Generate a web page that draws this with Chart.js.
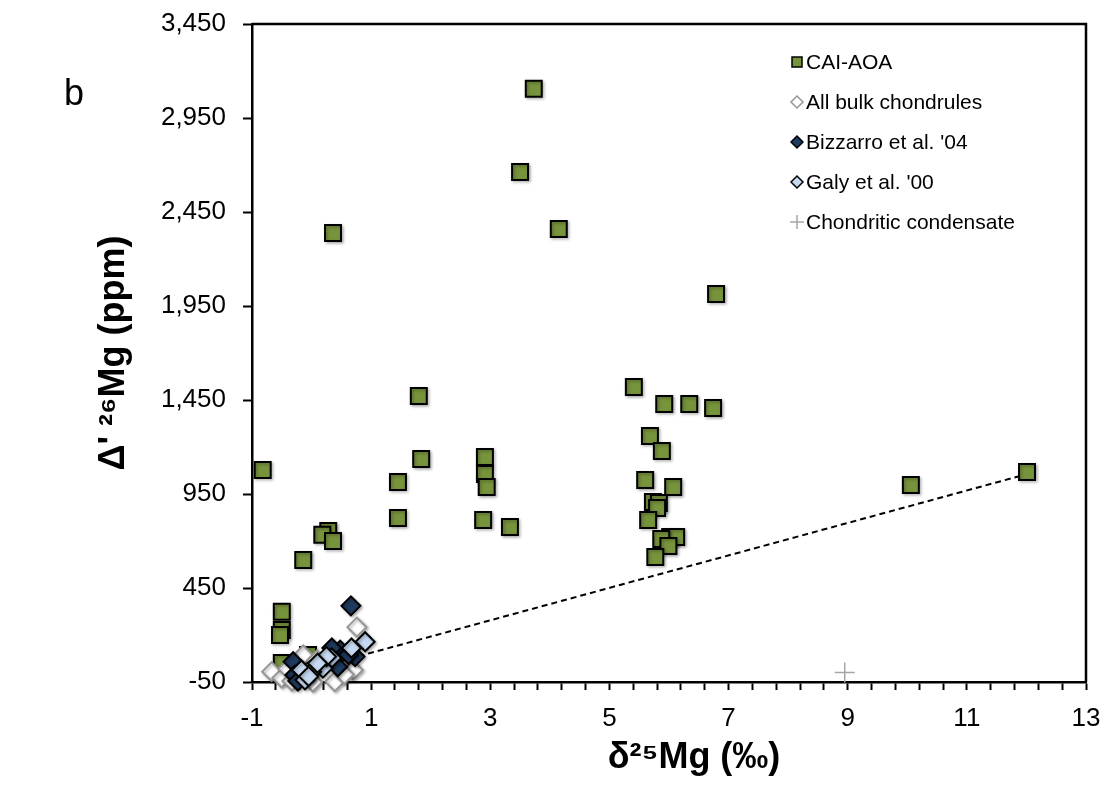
<!DOCTYPE html>
<html>
<head>
<meta charset="utf-8">
<title>Mg isotopes</title>
<script src="https://cdn.jsdelivr.net/npm/chart.js@4.4.0/dist/chart.umd.min.js"></script>
<style>
  html, body { margin: 0; padding: 0; background: #fff; }
  #wrap { width: 1106px; height: 785px; }
</style>
</head>
<body>
<div id="wrap"><canvas id="magChart" width="1106" height="785"></canvas></div>
<script>
// values: delta25Mg (permil) vs Delta'26Mg (ppm)
var caiX = [3.73, 3.50, 4.15, 0.36, 6.79, 5.41, 1.80, 5.92, 6.34, 6.74, 5.68, 5.88, -0.82, 1.84, 2.91, 2.91, 2.94, 1.45,
            5.60, 6.07, 1.45, 2.88, 3.33, 0.28, 0.18, 0.36, -0.14, 5.73, 5.83, 5.80, 5.65, 6.02, 6.12, 5.87, 5.99, 5.77,
            10.06, 12.01, -0.50, -0.50, -0.53, -0.50, -0.06];
var caiY = [3105, 2663, 2360, 2338, 2014, 1519, 1471, 1429, 1429, 1407, 1259, 1179, 1078, 1136, 1147, 1056, 987, 1014,
            1024, 987, 822, 812, 774, 753, 733, 700, 599, 907, 902, 876, 812, 721, 721, 711, 673, 615,
            998, 1067, 324, 227, 200, 51, 94];

var bulkX = [0.76, 0.70, 0.39, -0.14, -0.67, -0.50, 0.02, -0.33, 0.55, 0.09, -0.40];
var bulkY = [242, 14, -48, 94, 5, -29, -50, -45, -10, 67, 20];

var bizX = [0.66, 0.73, 0.48, 0.44, -0.31, -0.28, -0.23, 0.34, 0.62];
var bizY = [355, 85, 120, 31, 58, -13, -45, 131, 95];

var galyX = [0.90, 0.67, 0.34, 0.19, 0.00, -0.17, -0.11, 0.25, -0.05, 0.10];
var galyY = [164, 131, 78, 24, 5, 14, -39, 85, -20, 50];

var condX = [8.95];
var condY = [0];

var trendX = [0.30, 12.00];
var trendY = [45, 1055];

var yTickValues = [-50, 450, 950, 1450, 1950, 2450, 2950, 3450];
var xLabelValues = [-1, 1, 3, 5, 7, 9, 11, 13];

function pts(xs, ys) {
    return xs.map(function (x, i) { return { x: x, y: ys[i] }; });
}

Chart.defaults.font.family = '"Liberation Sans", Arial, sans-serif';
Chart.defaults.color = '#000';

// soft marker shadow like the spreadsheet original
var shadowPlugin = {
    id: 'markerShadow',
    beforeDatasetDraw: function (chart, args) {
        if (chart.data.datasets[args.index].shadow) {
            var c = chart.ctx;
            c.save();
            c.shadowColor = 'rgba(0,0,0,0.3)';
            c.shadowBlur = 3;
            c.shadowOffsetX = 1.5;
            c.shadowOffsetY = 1.5;
        }
    },
    afterDatasetDraw: function (chart, args) {
        if (chart.data.datasets[args.index].shadow) chart.ctx.restore();
    }
};

// top and right edges of the plot box
var framePlugin = {
    id: 'frame',
    beforeDatasetsDraw: function (chart) {
        var a = chart.chartArea, c = chart.ctx;
        c.save();
        c.strokeStyle = '#000';
        c.lineWidth = 2.5;
        c.beginPath();
        c.moveTo(a.left, a.top);
        c.lineTo(a.right, a.top);
        c.lineTo(a.right, a.bottom);
        c.stroke();
        c.restore();
    }
};

// panel letter + legend inside the plot
var legendPlugin = {
    id: 'insideLegend',
    afterDraw: function (chart) {
        var c = chart.ctx;
        c.save();
        c.fillStyle = '#000';
        c.font = '36px "Liberation Sans", Arial, sans-serif';
        c.textBaseline = 'alphabetic';
        c.fillText('b', 64, 105);

        c.font = '21px "Liberation Sans", Arial, sans-serif';
        c.textBaseline = 'middle';
        var mx = 797, y = 62;
        chart.data.datasets.forEach(function (d) {
            if (!d.inLegend) return;
            c.lineWidth = 1.5;
            c.strokeStyle = d.borderColor;
            c.fillStyle = d.backgroundColor;
            c.beginPath();
            if (d.pointStyle === 'rect') {
                c.rect(mx - 5, y - 5, 10, 10);
                c.fill();
                c.stroke();
            } else if (d.pointStyle === 'rectRot') {
                c.moveTo(mx - 6, y);
                c.lineTo(mx, y - 6);
                c.lineTo(mx + 6, y);
                c.lineTo(mx, y + 6);
                c.closePath();
                c.fill();
                c.stroke();
            } else {
                c.moveTo(mx - 7, y);
                c.lineTo(mx + 7, y);
                c.moveTo(mx, y - 7);
                c.lineTo(mx, y + 7);
                c.stroke();
            }
            c.fillStyle = '#000';
            c.fillText(d.label, 806, y + 1);
            y += 40;
        });
        c.restore();
    }
};

var ctx = document.getElementById('magChart').getContext('2d');

var magChart = new Chart(ctx, {
    type: 'scatter',
    data: {
        datasets: [{
            label: 'CAI-AOA',
            data: pts(caiX, caiY),
            pointStyle: 'rect',
            pointRadius: 11.3,
            pointHoverRadius: 11.3,
            backgroundColor: '#77933C',
            borderColor: '#000',
            borderWidth: 2,
            inLegend: true,
            shadow: true,
            order: 4
        }, {
            label: 'All bulk chondrules',
            data: pts(bulkX, bulkY),
            pointStyle: 'rectRot',
            pointRadius: 9.5,
            pointHoverRadius: 9.5,
            backgroundColor: '#fff',
            borderColor: '#969696',
            borderWidth: 2,
            inLegend: true,
            shadow: true,
            order: 3
        }, {
            label: "Bizzarro et al. '04",
            data: pts(bizX, bizY),
            pointStyle: 'rectRot',
            pointRadius: 9.5,
            pointHoverRadius: 9.5,
            backgroundColor: '#1F3A5F',
            borderColor: '#000',
            borderWidth: 2,
            inLegend: true,
            shadow: true,
            order: 2
        }, {
            label: "Galy et al. '00",
            data: pts(galyX, galyY),
            pointStyle: 'rectRot',
            pointRadius: 9.5,
            pointHoverRadius: 9.5,
            backgroundColor: '#C5D9F1',
            borderColor: '#000',
            borderWidth: 2,
            inLegend: true,
            shadow: true,
            order: 1
        }, {
            label: 'Chondritic condensate',
            data: pts(condX, condY),
            pointStyle: 'cross',
            pointRadius: 10,
            pointHoverRadius: 10,
            backgroundColor: '#A6A6A6',
            borderColor: '#A6A6A6',
            borderWidth: 1.5,
            inLegend: true,
            order: 0
        }, {
            type: 'line',
            label: 'trend',
            data: pts(trendX, trendY),
            borderColor: '#000',
            borderWidth: 2,
            borderDash: [6, 4],
            pointRadius: 0,
            fill: false,
            order: 5
        }]
    },
    options: {
        responsive: false,
        animation: false,
        clip: false,
        layout: { autoPadding: false, padding: { left: 0, top: 24, right: 20, bottom: 0 } },
        plugins: {
            legend: { display: false },
            tooltip: { enabled: false }
        },
        scales: {
            x: {
                type: 'linear',
                min: -1,
                max: 13,
                afterBuildTicks: function (s) {
                    var t = [];
                    for (var i = 0; i <= 35; i++) t.push({ value: Math.round((-1 + i * 0.4) * 10) / 10 });
                    s.ticks = t;
                },
                ticks: {
                    autoSkip: false,
                    maxRotation: 0,
                    padding: 13,
                    font: { size: 26 },
                    callback: function (v) {
                        return xLabelValues.indexOf(Math.round(v * 10) / 10) >= 0 ? String(Math.round(v)) : '';
                    }
                },
                grid: { drawOnChartArea: false, drawTicks: true, tickLength: 8, tickColor: '#000', tickWidth: 2 },
                border: { color: '#000', width: 2.5 },
                title: {
                    display: true,
                    text: '     δ²⁵Mg (‰)',
                    font: { size: 36, weight: 'bold' },
                    padding: { top: 0, bottom: 5 }
                },
                afterFit: function (s) {
                    s.height = 103;
                    s.paddingLeft = 0;
                    s.paddingRight = 0;
                }
            },
            y: {
                type: 'linear',
                min: -50,
                max: 3450,
                afterBuildTicks: function (s) {
                    s.ticks = yTickValues.map(function (v) { return { value: v }; });
                },
                ticks: {
                    padding: 17,
                    font: { size: 26 },
                    callback: function (v) { return v.toLocaleString('en-US'); }
                },
                grid: { drawOnChartArea: false, drawTicks: true, tickLength: 9, tickColor: '#000', tickWidth: 2 },
                border: { color: '#000', width: 2.5 },
                title: {
                    display: true,
                    text: "Δ' ²⁶Mg (ppm)",
                    font: { size: 36, weight: 'bold' },
                    padding: { top: 92, bottom: 0 }
                },
                afterFit: function (s) {
                    s.width = 252;
                    s.paddingTop = 0;
                    s.paddingBottom = 0;
                }
            }
        }
    },
    plugins: [shadowPlugin, framePlugin, legendPlugin]
});
</script>
</body>
</html>
